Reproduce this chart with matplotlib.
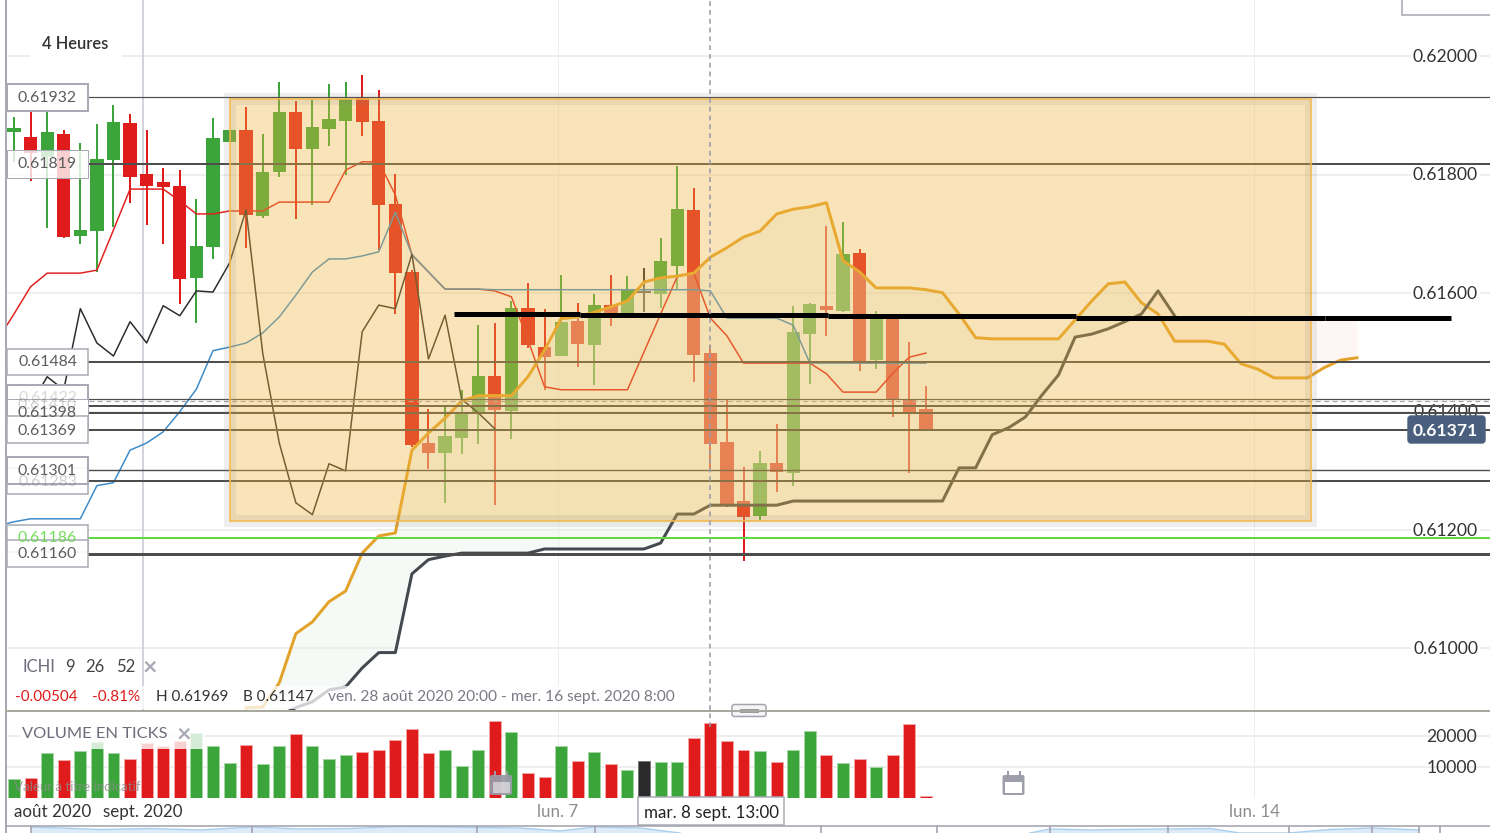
import numpy as np
import matplotlib
matplotlib.use("Agg")
import matplotlib.pyplot as plt
from matplotlib.patches import Rectangle, FancyBboxPatch

plt.rcParams['font.family'] = ['Lato', 'DejaVu Sans']

# bougies 4 heures
opens = [.61873, .61864, .61830, .61869, .61697, .61705, .61825, .61888, .61802, .61788,
         .61781, .61626, .61678, .61856, .61876, .61731, .61805, .61906, .61844, .61878,
         .61891, .61932, .61891, .61751, .61636, .61347, .61330, .61356, .61398, .61460,
         .61401, .61575, .61509, .61494, .61553, .61513, .61580, .61563, .61602, .61599,
         .61646, .61741, .61499, .61349, .61249, .61224, .61313, .61297, .61531, .61579,
         .61570, .61668, .61487, .61558, .61421, .61405]
highs = [.61898, .61908, .61918, .61876, .61854, .61886, .61918, .61903, .61876, .61812,
         .61808, .61759, .61896, .61876, .61915, .61869, .61957, .61925, .61927, .61954,
         .61957, .61969, .61943, .61802, .61639, .61405, .61408, .61437, .61546, .61550,
         .61587, .61617, .61573, .61631, .61584, .61599, .61631, .61629, .61643, .61693,
         .61815, .61778, .61513, .61420, .61307, .61334, .61379, .61579, .61584, .61714,
         .61720, .61675, .61570, .61558, .61518, .61443]
lows = [.61822, .61790, .61710, .61693, .61683, .61636, .61712, .61753, .61715, .61683,
        .61582, .61550, .61658, .61856, .61677, .61727, .61796, .61726, .61749, .61849,
        .61800, .61866, .61673, .61565, .61340, .61303, .61246, .61329, .61345, .61242,
        .61354, .61508, .61437, .61494, .61476, .61445, .61545, .61563, .61569, .61575,
        .61606, .61450, .61303, .61239, .61147, .61215, .61264, .61275, .61447, .61528,
        .61569, .61469, .61472, .61391, .61297, .61371]
closes = [.61879, .61837, .61873, .61695, .61707, .61827, .61889, .61796, .61781, .61780,
          .61624, .61680, .61862, .61876, .61732, .61805, .61906, .61844, .61881, .61894,
          .61928, .61889, .61749, .61634, .61344, .61330, .61359, .61398, .61460, .61403,
          .61575, .61513, .61492, .61552, .61514, .61580, .61562, .61606, .61602, .61655,
          .61742, .61496, .61345, .61242, .61222, .61313, .61298, .61535, .61582, .61572,
          .61666, .61484, .61558, .61420, .61400, .61371]
volumes = [6030, 6450, 14610, 12260, 15160, 18070, 14420, 12480, 17740, 16780,
           18490, 21070, 16680, 11190, 17000, 10970, 16680, 20650, 16780, 12480,
           13970, 14840, 15390, 18610, 22360, 14420, 15480, 10230, 15480, 24840,
           21290, 8160, 6680, 16680, 11840, 14840, 10970, 9130, 11940, 11610,
           11710, 19260, 24100, 18290, 15580, 15260, 11610, 15390, 21520, 13870,
           11190, 12480, 10000, 13970, 23780, 650]
hover_index = 38

# ichimoku 9 26 52, indices -1 a 55 pour tenkan et kijun
tenkan = [.61521, .61565, .61611, .61634, .61634, .61634, .61639, .61707, .61776, .61776,
          .61776, .61756, .61734, .61734, .61739, .61739, .61739, .61754, .61754, .61754,
          .61754, .61808, .61822, .61822, .61766, .61665, .61636, .61607, .61607, .61607,
          .61604, .61594, .61521, .61442, .61437, .61437, .61437, .61437, .61437, .61501,
          .61565, .61628, .61634, .61558, .61528, .61482, .61482, .61482, .61482, .61482,
          .61464, .61433, .61433, .61433, .61465, .61492, .61499]
kijun = [.61207, .61214, .61219, .61219, .61219, .61219, .61275, .61280, .61335, .61347,
         .61366, .61400, .61438, .61503, .61509, .61516, .61533, .61560, .61597, .61636,
         .61658, .61658, .61663, .61670, .61737, .61665, .61636, .61607, .61607, .61607,
         .61606, .61606, .61606, .61606, .61606, .61606, .61606, .61606, .61606, .61606,
         .61606, .61606, .61606, .61604, .61558, .61558, .61558, .61558, .61546, .61482,
         .61482, .61482, .61482, .61482, .61482, .61482, .61482]
# chikou, indices -1 a 29
chikou = [.61327, .61366, .61411, .61459, .61437, .61574, .61516, .61494, .61552, .61516,
          .61579, .61562, .61604, .61602, .61651, .61741, .61499, .61347, .61246, .61226,
          .61312, .61300, .61535, .61580, .61574, .61666, .61489, .61563, .61421, .61398,
          .61371]
# senkou, indices 14 a 81
senkou_a = [.60900, .60901, .60942, .61025, .61045, .61079, .61097, .61161, .61190, .61195,
            .61335, .61364, .61389, .61418, .61427, .61427, .61427, .61459, .61504, .61557,
            .61560, .61568, .61577, .61587, .61619, .61626, .61629, .61634, .61661, .61677,
            .61695, .61705, .61734, .61742, .61746, .61753, .61655, .61636, .61609, .61609,
            .61609, .61606, .61601, .61565, .61525, .61523, .61523, .61523, .61523, .61523,
            .61555, .61587, .61616, .61619, .61584, .61565, .61519, .61519, .61519, .61514,
            .61481, .61472, .61457, .61457, .61457, .61474, .61487, .61491]
senkou_b = [.60862, .60871, .60886, .60900, .60910, .60930, .60935, .60967, .60993, .60993,
            .61126, .61150, .61156, .61161, .61161, .61161, .61161, .61161, .61168, .61168,
            .61168, .61168, .61168, .61168, .61168, .61178, .61227, .61227, .61242, .61242,
            .61242, .61242, .61242, .61249, .61249, .61249, .61249, .61249, .61249, .61249,
            .61249, .61249, .61249, .61305, .61305, .61361, .61373, .61391, .61428, .61462,
            .61526, .61531, .61540, .61552, .61565, .61604, .61562, .61560, .61560, .61558,
            .61558, .61558, .61557, .61557, .61555, .61555, .61555, .61555]
senkou_b_visible = 57  # au dela, cachee par le trait noir

# niveaux horizontaux: prix, epaisseur px
level_prices = [.61932, .61819, .61484, .61422, .61410, .61398, .61369, .61301, .61283, .61186, .61160]
level_widths = [1.2, 2, 2, 1.2, 2, 2, 2, 1.4, 2, 2, 3]
level_colors = ['#4d4d4d'] * 9 + ['#5fd93f', '#4d4d4d']
crosshair_price = .61418
crosshair_index = 42

# zone orange et trait noir dessines a la main
zone_x = [13.03, 78.23]
zone_y = [.61215, .61928]
drawn_x = [26.54, 34.14, 49.1, 64.05, 79.07, 86.67]
drawn_y = [.61565, .61563, .61561, .61559, .61558]

price_ticks = ['0.62000', '0.61800', '0.61600', '0.61400', '0.61200', '0.61000']
price_tick_values = [.62, .618, .616, .614, .612, .61]
volume_ticks = [20000, 10000]
date_grid = [7.78, 32.8, 74.8]

# mini graphique du bas
nav_x = [31, 60, 100, 150, 200, 252, 300, 350, 400, 440, 477, 520, 560, 595, 640, 680]
nav_y = [6, 5, 3.5, 4.5, 3, 6, 4, 4.5, 6.5, 6, 5.5, 5, 2, 6, 5, 0]
nav_x2 = [1030, 1050, 1090, 1120, 1168, 1210, 1240, 1289, 1330, 1372, 1419]
nav_y2 = [0, 4, 3, 3.5, 4, 4.5, 0, 0, 3.5, 5, 3]
nav_ticks = [31, 252, 477, 595, 821, 937, 1050, 1168, 1289, 1372, 1419, 1440]

W, H = 1490, 833
px = 1 / 100
pt = 72 / 100  # 1 pixel en points

x_step = 16.58
x_first = 14


def add_axes_px(left, top, right, bottom):
    a = fig.add_axes([left / W, 1 - bottom / H, (right - left) / W, (bottom - top) / H])
    a.axis('off')
    a.patch.set_alpha(0)
    return a


fig = plt.figure(figsize=(W * px, H * px), dpi=100, facecolor='white')

ax = add_axes_px(6, 0, W, 710)
ax.set_xlim((6 - x_first) / x_step, (W - x_first) / x_step)
ax.set_ylim(.60896, .620954)

vol = add_axes_px(6, 711, W, 798)
vol.set_xlim(ax.get_xlim())
vol.set_ylim(0, 28066)

over = add_axes_px(0, 0, W, H)
over.set_xlim(0, W)
over.set_ylim(H, 0)
over.set_zorder(10)

nav = add_axes_px(0, 826, W, H)
nav.set_xlim(0, W)
nav.set_ylim(0, 7)

# grille
for p in price_tick_values:
    ax.axhline(p, color='#eeeeee', lw=2 * pt, zorder=1)
ax.axvline(date_grid[0], color='#d3d3dc', lw=2 * pt, zorder=1)
for d in date_grid[1:]:
    ax.axvline(d, color='#eeeeee', lw=1 * pt, zorder=1)
    vol.axvline(d, color='#eeeeee', lw=1 * pt, zorder=1)
for v in volume_ticks:
    vol.axhline(v, color='#eeeeee', lw=2 * pt, zorder=1)

# etiquettes de l'axe des prix, sous les niveaux
for lab, p in zip(price_ticks, price_tick_values):
    ypx = 57 + (.62 - p) * 59200
    ax.text(1445.5, ypx, lab, transform=over.transData, ha='center', va='center', fontsize=12.6,
            color='#333333', zorder=1.5, bbox=dict(fc='white', ec='none', pad=1.5))

# bougies
x = np.arange(len(opens))
for i in x:
    if i == hover_index:
        col = '#2a2a2a'
    elif closes[i] >= opens[i]:
        col = '#3ba53b'
    else:
        col = '#e01b1b'
    ax.vlines(i, lows[i], highs[i], color=col, lw=2 * pt, zorder=2)
    h = abs(closes[i] - opens[i])
    if h < 3e-5:
        ax.bar(i, 3e-5, bottom=min(opens[i], closes[i]) - 1e-5, width=.8, color=col, zorder=2)
    else:
        ax.bar(i, h, bottom=min(opens[i], closes[i]), width=.8, color=col, zorder=2)

# nuage au dessus des bougies
cloud_x = np.arange(14, 82)
sa = np.array(senkou_a)
sb = np.array(senkou_b)
ax.fill_between(cloud_x, sa, sb, where=sa >= sb, interpolate=True, color='#e8f2ea', alpha=.35, lw=0, zorder=2.5)
ax.fill_between(cloud_x, sa, sb, where=sa <= sb, interpolate=True, color='#fce1e1', alpha=.3, lw=0, zorder=2.5)

# lignes ichimoku
ax.plot(np.arange(-1, 56), tenkan, color='#e0211f', lw=1.5 * pt, zorder=3)
ax.plot(np.arange(-1, 56), kijun, color='#3c8ac8', lw=1.5 * pt, zorder=3)
ax.plot(np.arange(-1, 30), chikou, color='#2b2b2b', lw=1.5 * pt, zorder=3)
ax.plot(cloud_x, sa, color='#e3a22a', lw=3 * pt, zorder=3)
ax.plot(cloud_x[:senkou_b_visible], sb[:senkou_b_visible], color='#44494f', lw=3 * pt, zorder=3)

# niveaux
for p, w, c in zip(level_prices, level_widths, level_colors):
    ax.axhline(p, xmin=(89 - 6) / (W - 6), color=c, lw=w * pt, zorder=3.5)
ax.axhline(crosshair_price, xmin=(89 - 6) / (W - 6), color='#a3a3b0', lw=1.2 * pt, ls=(0, (4, 3)), zorder=3.5)

# zone orange avec halo de selection
zw = zone_x[1] - zone_x[0]
zh = zone_y[1] - zone_y[0]
ax.add_patch(Rectangle((zone_x[0], zone_y[0]), zw, zh, fc='#f1b73f', ec='none', alpha=.364, zorder=4))
ax.add_patch(Rectangle((zone_x[0], zone_y[0]), zw, zh, fc='none', ec='#808080', lw=12 * pt, alpha=.13, joinstyle='miter', zorder=4.1))
ax.add_patch(Rectangle((zone_x[0], zone_y[0]), zw, zh, fc='none', ec='#f4b84c', lw=1.6 * pt, joinstyle='miter', zorder=4.2))

# trait noir
for k in range(len(drawn_y)):
    ax.plot(drawn_x[k:k + 2], [drawn_y[k], drawn_y[k]], color='black', lw=5 * pt, solid_capstyle='butt', zorder=5)

# reticule
ax.axvline(crosshair_index, color='#9c9caa', lw=1.6 * pt, ls=(0, (3, 2.5)), zorder=5)
vol.vlines(crosshair_index, 23000, 28066, color='#9c9caa', lw=1.6 * pt, ls=(0, (3, 2.5)), zorder=5)

# volumes
for i in x:
    if i == hover_index:
        col, edge = '#2a2a2a', '#777777'
    elif closes[i] >= opens[i]:
        col, edge = '#3ba53b', '#a3d6a3'
    else:
        col, edge = '#e01b1b', '#f4a5a5'
    vol.bar(i, volumes[i], width=.72, color=col, edgecolor=edge, lw=.7, zorder=2)

# mini graphique
nav.fill_between(nav_x, 0, nav_y, color='#dcebf7', lw=0)
nav.plot(nav_x, nav_y, color='#a9cdec', lw=1)
nav.fill_between(nav_x2, 0, nav_y2, color='#dcebf7', lw=0)
nav.plot(nav_x2, nav_y2, color='#a9cdec', lw=1)
nav.vlines(nav_ticks, 0, 7, color='#a4a4b0', lw=1.2)

# cadres et textes
over.plot([5.5, 5.5], [0, H], color='#a9a9b5', lw=2 * pt)
over.plot([6, W], [710.5, 710.5], color='#a9a9a2', lw=2 * pt)
over.plot([6, W], [825.5, 825.5], color='#a4a4b0', lw=1.6 * pt)
over.add_patch(Rectangle((1402, -3), 100, 18, fc='white', ec='#a9a9b5', lw=1.6 * pt))

over.add_patch(Rectangle((30, 30), 92, 28, fc='white', ec='none'))
over.text(42, 44, '4 Heures', fontsize=11.9, fontweight='semibold', color='#333333', va='center')

# etiquettes de niveaux: texte, haut, bas, trait, fond, alpha texte, centre texte, couleur
level_boxes = [
    ('0.61422', 385, 420, 2, 1, .25, 398, '#666666'),
    ('0.61410', 399, 430, 1, 1, .3, 405, '#666666'),
    ('0.61398', 399, 425, 1, .8, 1, 413, '#5c5c5c'),
    ('0.61932', 84, 111, 2, 1, 1, 98, '#5c5c5c'),
    ('0.61819', 150, 178, 1, .8, 1, 164, '#5c5c5c'),
    ('0.61484', 349, 375, 1.5, 1, 1, 362, '#5c5c5c'),
    ('0.61369', 416, 443, 1.5, 1, 1, 431, '#5c5c5c'),
    ('0.61283', 468, 494, 1.5, 1, .3, 482, '#666666'),
    ('0.61301', 457, 484, 2, .9, 1, 471, '#5c5c5c'),
    ('0.61186', 525, 552, 1.5, 1, .85, 538, '#5fd93f'),
    ('0.61160', 540, 567, 1.5, .9, 1, 554, '#5c5c5c'),
]
for lab, top, bot, lw, bg, ta, yc, tc in level_boxes:
    over.add_patch(Rectangle((7, top), 81, bot - top, fc=(1, 1, 1, bg), ec='#a9a9b5', lw=lw * pt))
    over.text(47.5, yc, lab, fontsize=11.4, color=tc, alpha=ta, ha='center', va='center')

over.add_patch(FancyBboxPatch((1408, 416), 77, 27, boxstyle='round,pad=0,rounding_size=3', fc='#4a5f7e', ec='#4a5f7e', lw=1))
over.text(1445.5, 431, '0.61371', fontsize=12.6, fontweight='bold', color='white', ha='center', va='center')

over.text(22, 667, 'ICHI', fontsize=12, color='#6c6c7a', va='center')
for t, tx in zip(['9', '26', '52'], [65, 85, 116]):
    over.text(tx, 667, t, fontsize=12, color='#444444', va='center')
over.text(150, 667, '×', fontsize=18, fontweight='bold', color='#a9a9b5', ha='center', va='center')

over.add_patch(Rectangle((8, 686), 682, 23, fc='white', ec='none', alpha=.75))
over.text(15, 697, '-0.00504', fontsize=11, color='#e01b1b', va='center')
over.text(92, 697, '-0.81%', fontsize=11, color='#e01b1b', va='center')
over.text(156, 697, 'H 0.61969', fontsize=11, color='#333333', va='center')
over.text(243, 697, 'B 0.61147', fontsize=11, color='#333333', va='center')
over.text(328, 697, 'ven. 28 août 2020 20:00 - mer. 16 sept. 2020 8:00', fontsize=11.13, color='#7a7a85', va='center')

# legende volumes
over.add_patch(Rectangle((20, 722), 185, 26.5, fc='white', ec='none', alpha=.8))
over.text(22, 734, 'VOLUME EN TICKS', fontsize=11.85, color='#6c6c7a', va='center')
over.text(184, 734, '×', fontsize=18, fontweight='bold', color='#a9a9b5', ha='center', va='center')
over.text(14, 787, 'Valeur à titre indicatif', fontsize=9.5, color='#8c8c8c', alpha=.8, va='center')

over.text(1477, 737, '20000', fontsize=12.6, color='#333333', ha='right', va='center')
over.text(1477, 768, '10000', fontsize=12.6, color='#333333', ha='right', va='center')


# icones calendrier
def calendar(x0, inner_alpha):
    over.add_patch(FancyBboxPatch((x0, 775), 22, 20, boxstyle='round,pad=0,rounding_size=2', fc='#9a9aa8', ec='none', alpha=.95))
    over.add_patch(Rectangle((x0 + 2.5, 782), 17, 11, fc='white', ec='none', alpha=inner_alpha))
    for dx in (5, 17):
        over.plot([x0 + dx, x0 + dx], [772, 777], color='#9a9aa8', lw=2 * pt)


calendar(490, .5)
calendar(1002.5, 1)

# poignee
over.add_patch(FancyBboxPatch((732, 704.5), 34, 12, boxstyle='round,pad=0,rounding_size=2.5', fc='#f5f5f5', ec='#a4a4b0', lw=1.5 * pt))
over.plot([740, 758], [709, 709], color='#9a9a9a', lw=1 * pt)
over.plot([740, 758], [712, 712], color='#9a9a9a', lw=1 * pt)

# axe du temps
over.text(14, 812, 'août 2020', fontsize=12.2, color='#333333', va='center')
over.text(103, 812, 'sept. 2020', fontsize=12.2, color='#333333', va='center')
over.text(557.5, 812, 'lun. 7', fontsize=12.2, color='#8c8c8c', ha='center', va='center')
over.text(1254, 812, 'lun. 14', fontsize=12.2, color='#8c8c8c', ha='center', va='center')
over.add_patch(Rectangle((638, 797), 146, 28, fc='white', ec='#a9a9b5', lw=1.5 * pt))
over.text(711, 813, 'mar. 8 sept. 13:00', fontsize=12.2, color='#222222', ha='center', va='center')

fig.savefig('out.png', dpi=100)
